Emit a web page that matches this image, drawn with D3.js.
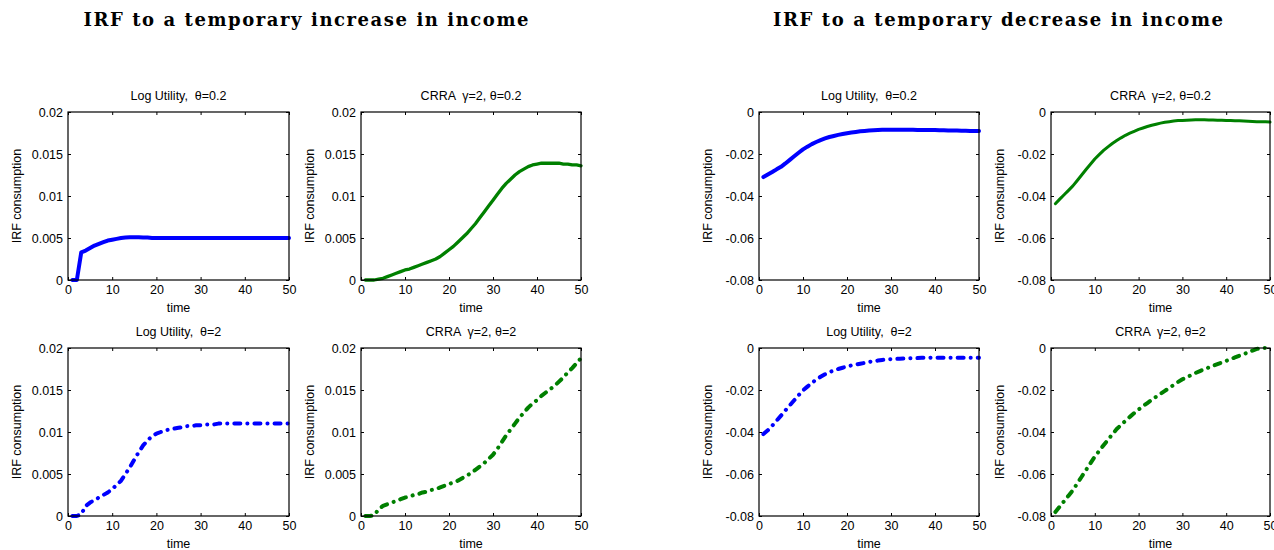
<!DOCTYPE html>
<html>
<head>
<meta charset="utf-8">
<title>IRF consumption</title>
<script src="https://cdn.jsdelivr.net/npm/d3@7"></script>
<style>
    body{ margin: 0; background: #fff; }
    svg text{ font-family: "Liberation Sans", Arial, sans-serif; fill: #000; }
    .tick text{ font-size: 12.5px; }
    .axis path{ display: none; }
    .axis line{ stroke: #000; stroke-width: 1px; }
    svg text.mainTitle{ font-family: "DejaVu Serif", serif; font-weight: bold; font-size: 18px; }
    .panelTitle{ font-size: 12.5px; white-space: pre; }
    .axisLabel{ font-size: 12.5px; }
</style>
</head>
<body>
<div id="chart"></div>
<script>
var time = [1,2,3,4,5,6,7,8,9,10,11,12,13,14,15,16,17,18,19,20,21,22,23,24,25,
            26,27,28,29,30,31,32,33,34,35,36,37,38,39,40,41,42,43,44,45,46,47,48,49,50];

var xTicks = [0,10,20,30,40,50];
var yTicksInc = [0,0.005,0.01,0.015,0.02];
var yLabelsInc = ['0','0.005','0.01','0.015','0.02'];
var yTicksDec = [-0.08,-0.06,-0.04,-0.02,0];
var yLabelsDec = ['-0.08','-0.06','-0.04','-0.02','0'];

var titles = ['IRF to a temporary increase in income', 'IRF to a temporary decrease in income'];
var panelTitles = ['Log Utility,  \u03b8=0.2', 'CRRA  \u03b3=2, \u03b8=0.2', 'Log Utility,  \u03b8=2', 'CRRA  \u03b3=2, \u03b8=2'];

// increase in income
var incLog02 = [0,0,0.0033,0.0035,0.0038,0.0041,0.0043,0.0045,0.0047,0.0048,0.0049,0.0050,0.00505,0.0051,0.0051,
    0.0051,0.00505,0.00505,0.0050,0.0050,0.0050,0.0050,0.0050,0.0050,0.0050,0.0050,0.0050,0.0050,0.0050,0.0050,
    0.0050,0.0050,0.0050,0.0050,0.0050,0.0050,0.0050,0.0050,0.0050,0.0050,0.0050,0.0050,0.0050,0.0050,0.0050,
    0.0050,0.0050,0.0050,0.0050,0.0050];
var incCrra02 = [0,0,0,0.0001,0.0002,0.0004,0.0006,0.0008,0.0010,0.0012,0.0013,0.0015,0.0017,0.0019,0.0021,
    0.0023,0.0025,0.0028,0.0032,0.0036,0.0040,0.0045,0.0050,0.0055,0.0061,0.0067,0.0074,0.0081,0.0088,0.0095,
    0.0102,0.0109,0.0115,0.0120,0.0125,0.0129,0.0132,0.0135,0.0137,0.0138,0.0139,0.0139,0.0139,0.0139,0.0139,
    0.0138,0.0138,0.0137,0.0137,0.0136];
var incLog2 = [0,0,0.0002,0.0012,0.0016,0.0019,0.0022,0.0025,0.0028,0.0032,0.0037,0.0042,0.0050,0.0058,0.0067,
    0.0076,0.0084,0.0090,0.0095,0.0098,0.0100,0.0102,0.0103,0.0104,0.0105,0.0106,0.0107,0.0107,0.0108,0.0108,
    0.0109,0.0109,0.0109,0.0110,0.0110,0.0110,0.0110,0.0110,0.0110,0.0110,0.0110,0.0110,0.0110,0.0110,0.0110,
    0.0110,0.0110,0.0110,0.0110,0.0110];
var incCrra2 = [0,0,0.0001,0.0008,0.0012,0.0014,0.0016,0.0018,0.0020,0.0022,0.0023,0.0025,0.0026,0.0028,0.0029,
    0.0031,0.0032,0.0034,0.0036,0.0038,0.0040,0.0042,0.0045,0.0048,0.0051,0.0055,0.0059,0.0063,0.0068,0.0073,
    0.0080,0.0088,0.0096,0.0103,0.0110,0.0117,0.0123,0.0129,0.0134,0.0138,0.0143,0.0147,0.0151,0.0155,0.0160,
    0.0165,0.0171,0.0176,0.0182,0.0188];

// decrease in income
var decLog02 = [-0.0310,-0.0298,-0.0286,-0.0273,-0.0261,-0.0245,-0.0228,-0.0211,-0.0194,-0.0178,-0.0165,-0.0153,-0.0143,-0.0134,-0.0126,
    -0.0119,-0.0114,-0.0109,-0.0105,-0.0101,-0.0098,-0.0095,-0.0092,-0.0090,-0.0088,-0.0087,-0.0086,-0.0085,-0.0084,-0.0084,
    -0.0084,-0.0084,-0.0084,-0.0085,-0.0085,-0.0086,-0.0086,-0.0086,-0.0086,-0.0086,-0.0087,-0.0087,-0.0088,-0.0088,-0.0088,
    -0.0089,-0.0089,-0.0090,-0.0090,-0.0090];
var decCrra02 = [-0.0437,-0.0415,-0.0394,-0.0373,-0.0352,-0.0326,-0.0300,-0.0274,-0.0249,-0.0224,-0.0203,-0.0183,-0.0166,-0.0150,-0.0136,
    -0.0123,-0.0111,-0.0101,-0.0092,-0.0083,-0.0076,-0.0069,-0.0063,-0.0058,-0.0053,-0.0049,-0.0046,-0.0043,-0.0041,-0.0040,
    -0.0039,-0.0038,-0.0037,-0.0037,-0.0037,-0.0038,-0.0038,-0.0039,-0.0039,-0.0040,-0.0041,-0.0042,-0.0042,-0.0043,-0.0044,
    -0.0045,-0.0046,-0.0046,-0.0047,-0.0048];
var decLog2 = [-0.0410,-0.0392,-0.0370,-0.0346,-0.0322,-0.0297,-0.0273,-0.0249,-0.0225,-0.0202,-0.0184,-0.0166,-0.0151,-0.0137,-0.0125,
    -0.0115,-0.0107,-0.0100,-0.0094,-0.0088,-0.0083,-0.0079,-0.0075,-0.0071,-0.0066,-0.0063,-0.0060,-0.0057,-0.0055,-0.0053,
    -0.0052,-0.0051,-0.0050,-0.0049,-0.0048,-0.0048,-0.0047,-0.0047,-0.0046,-0.0046,-0.0046,-0.0046,-0.0046,-0.0046,-0.0046,
    -0.0046,-0.0046,-0.0046,-0.0046,-0.0046];
var decCrra2 = [-0.0781,-0.0755,-0.0729,-0.0703,-0.0677,-0.0645,-0.0613,-0.0581,-0.0549,-0.0517,-0.0490,-0.0463,-0.0437,-0.0411,-0.0386,
    -0.0366,-0.0347,-0.0328,-0.0310,-0.0293,-0.0277,-0.0262,-0.0247,-0.0232,-0.0218,-0.0204,-0.0190,-0.0176,-0.0162,-0.0149,
    -0.0139,-0.0129,-0.0119,-0.0110,-0.0101,-0.0093,-0.0085,-0.0077,-0.0069,-0.0061,-0.0053,-0.0045,-0.0037,-0.0029,-0.0021,
    -0.0012,-0.0004,0,0,0];

var width = 1274, height = 550;
var blue = '#0000ff', green = '#008000';

var svg = d3.select('#chart').append('svg')
    .attr('width', width)
    .attr('height', height);

// main titles
svg.append('text').attr('class', 'mainTitle')
    .attr('x', 306).attr('y', 26).attr('text-anchor', 'middle')
    .attr('textLength', 445).attr('lengthAdjust', 'spacing')
    .text(titles[0]);
svg.append('text').attr('class', 'mainTitle')
    .attr('x', 998).attr('y', 26).attr('text-anchor', 'middle')
    .attr('textLength', 450).attr('lengthAdjust', 'spacing')
    .text(titles[1]);

var panels = [
    {x: 68,   y: 112, w: 221, h: 168, data: incLog02,  title: panelTitles[0], color: blue,  dash: false, lw: 4,   dec: false},
    {x: 361,  y: 112, w: 220, h: 168, data: incCrra02, title: panelTitles[1], color: green, dash: false, lw: 3.3, dec: false},
    {x: 68,   y: 348, w: 221, h: 168, data: incLog2,   title: panelTitles[2], color: blue,  dash: true,  lw: 4,   dec: false},
    {x: 361,  y: 348, w: 220, h: 168, data: incCrra2,  title: panelTitles[3], color: green, dash: true,  lw: 4,   dec: false},
    {x: 759,  y: 112, w: 220, h: 168, data: decLog02,  title: panelTitles[0], color: blue,  dash: false, lw: 4,   dec: true},
    {x: 1051, y: 112, w: 219, h: 168, data: decCrra02, title: panelTitles[1], color: green, dash: false, lw: 3,   dec: true},
    {x: 759,  y: 348, w: 220, h: 168, data: decLog2,   title: panelTitles[2], color: blue,  dash: true,  lw: 4,   dec: true},
    {x: 1051, y: 348, w: 219, h: 168, data: decCrra2,  title: panelTitles[3], color: green, dash: true,  lw: 4,   dec: true}
];

panels.forEach(function(p){
    var g = svg.append('g').attr('transform', 'translate(' + p.x + ',' + p.y + ')');
    var yTicks = p.dec ? yTicksDec : yTicksInc;
    var yLabels = p.dec ? yLabelsDec : yLabelsInc;

    var xScale = d3.scaleLinear().domain([0, 50]).range([0, p.w]);
    var yScale = d3.scaleLinear().domain([yTicks[0], yTicks[yTicks.length - 1]]).range([p.h, 0]);

    var xAxis = d3.axisBottom(xScale).tickValues(xTicks).tickSizeInner(-3).tickSizeOuter(0).tickPadding(5);
    var yAxis = d3.axisLeft(yScale).tickValues(yTicks).tickSizeInner(-3).tickSizeOuter(0).tickPadding(5)
        .tickFormat(function(d, i){ return yLabels[i]; });
    var xTop = d3.axisTop(xScale).tickValues(xTicks).tickSizeInner(-3).tickSizeOuter(0).tickFormat('');
    var yRight = d3.axisRight(yScale).tickValues(yTicks).tickSizeInner(-3).tickSizeOuter(0).tickFormat('');

    g.append('g').attr('class', 'axis').attr('transform', 'translate(0,' + p.h + ')').call(xAxis);
    g.append('g').attr('class', 'axis').call(yAxis);
    g.append('g').attr('class', 'axis').call(xTop);
    g.append('g').attr('class', 'axis').attr('transform', 'translate(' + p.w + ',0)').call(yRight);
    g.selectAll('.tick text').attr('font-family', null).attr('font-size', null);

    var line = d3.line()
        .x(function(d, i){ return xScale(time[i]); })
        .y(function(d){ return yScale(d); });

    g.append('path')
        .datum(p.data)
        .attr('d', line)
        .attr('fill', 'none')
        .attr('stroke', p.color)
        .attr('stroke-width', p.lw)
        .attr('stroke-linejoin', 'round')
        .attr('stroke-linecap', 'round')
        .attr('stroke-dasharray', p.dash ? '6,7,0.1,7' : null);

    g.append('rect')
        .attr('width', p.w).attr('height', p.h)
        .attr('fill', 'none').attr('stroke', '#000').attr('stroke-width', 1.2);

    g.append('text').attr('class', 'panelTitle')
        .attr('x', p.w / 2).attr('y', -12).attr('text-anchor', 'middle')
        .attr('xml:space', 'preserve')
        .text(p.title);

    g.append('text').attr('class', 'axisLabel')
        .attr('x', p.w / 2).attr('y', p.h + 32).attr('text-anchor', 'middle')
        .text('time');

    g.append('text').attr('class', 'axisLabel')
        .attr('transform', 'translate(-47,' + (p.h / 2) + ') rotate(-90)')
        .attr('text-anchor', 'middle')
        .text('IRF consumption');
});
</script>
</body>
</html>
